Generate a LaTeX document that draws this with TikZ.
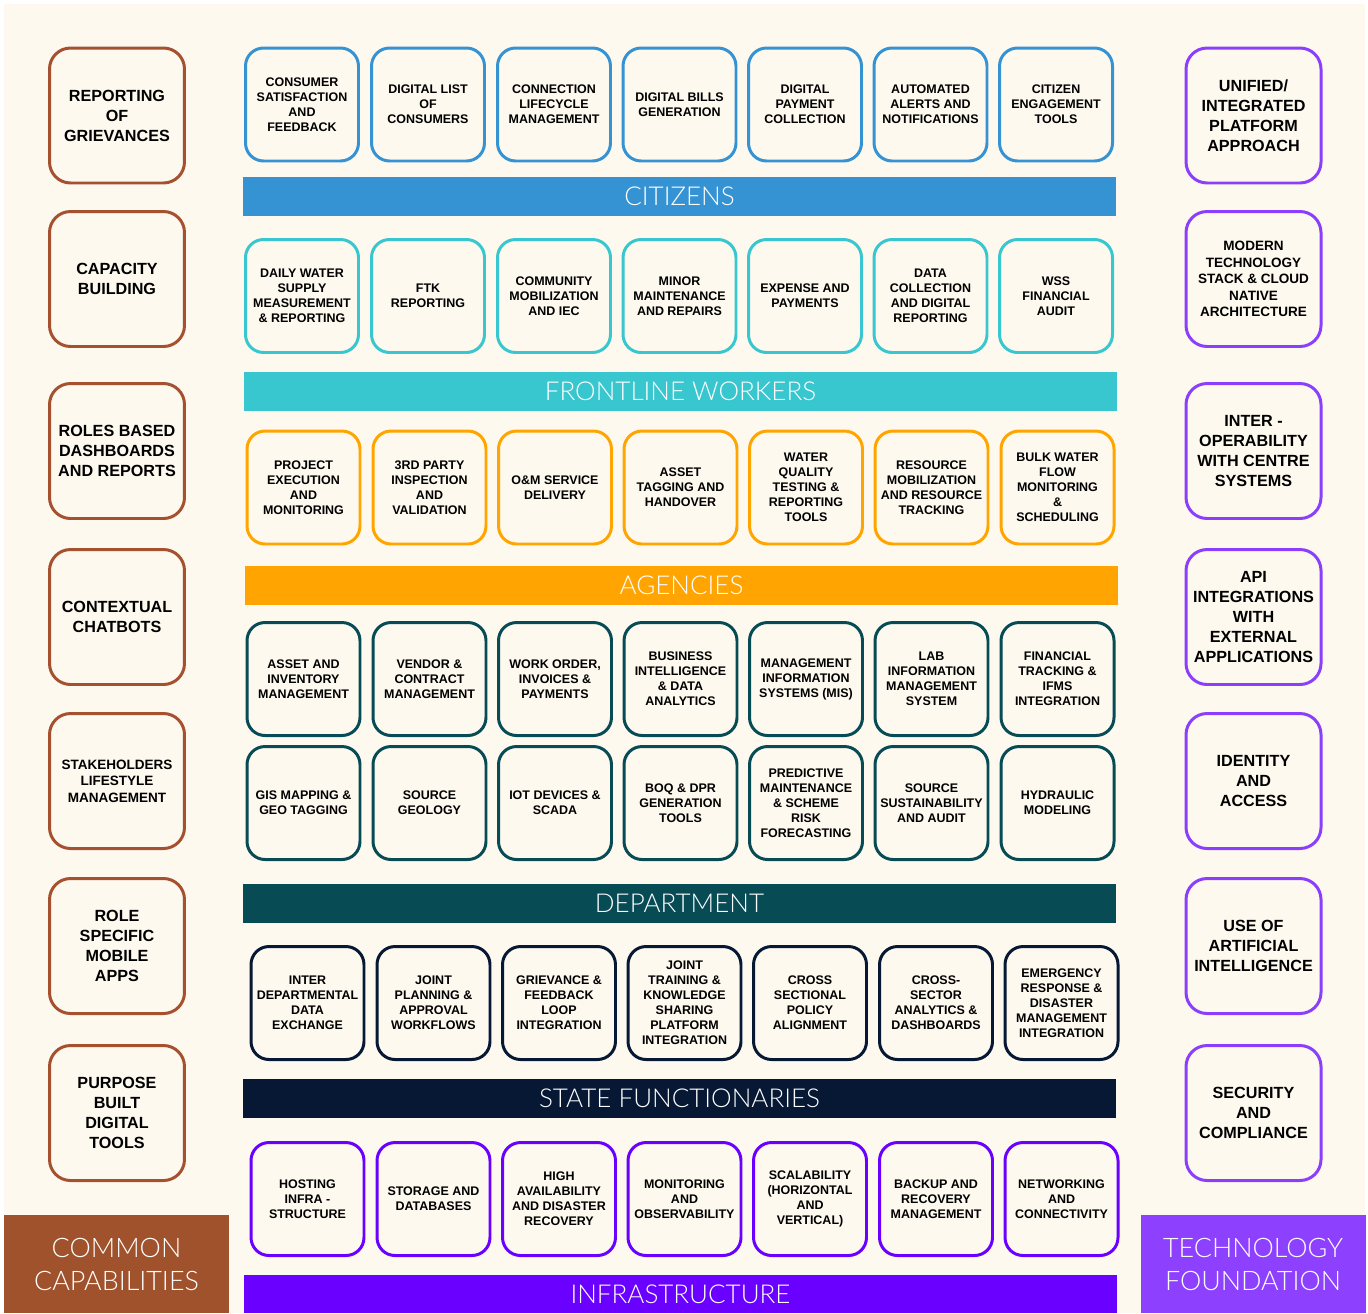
\documentclass[tikz,border=0pt]{standalone}
\usepackage{fontspec}
\setmainfont{Liberation Sans}
\newfontfamily\bandfamily{Lato Light}
\usepackage{tikz}
\usetikzlibrary{positioning}
\definecolor{cream}{HTML}{FDF9EF}
\definecolor{brownedge}{HTML}{A5502F}
\definecolor{brownband}{HTML}{A0522D}
\definecolor{violetedge}{HTML}{8B3FFC}
\definecolor{violetband}{HTML}{8E40FF}
\definecolor{citblue}{HTML}{3592D3}
\definecolor{fwcyan}{HTML}{38C6CF}
\definecolor{agorange}{HTML}{FFA400}
\definecolor{depteal}{HTML}{074B55}
\definecolor{stnavy}{HTML}{061834}
\definecolor{infpurple}{HTML}{6A00FF}
\newcommand\tilefont{\fontsize{7.1}{8.5}\selectfont\bfseries}
\newcommand\sidefont{\fontsize{9.2}{11.4}\selectfont\bfseries}
\newcommand\sidesmallfont{\fontsize{7.7}{9.4}\selectfont\bfseries}
\newcommand\bandfont{\fontsize{14.8}{17}\selectfont\bandfamily}
\tikzset{
    tile/.style={draw, line width=1.7pt, rounded corners=0.36cm, fill=cream, minimum width=2.26cm, minimum height=2.26cm, inner sep=1pt, align=center, font=\tilefont},
    sidetile/.style={tile, rounded corners=0.42cm, minimum width=2.7cm, minimum height=2.7cm, font=\sidefont},
    band/.style={minimum width=17.46cm, minimum height=0.78cm, inner sep=0pt, text=white, font=\bandfont},
    cornerband/.style={minimum width=4.5cm, minimum height=1.96cm, inner sep=0pt, align=center, text=white, font=\fontsize{15.3}{18.8}\selectfont\bandfamily},
}

\begin{document}
\begin{tikzpicture}[x=0.02cm, y=-0.02cm]
   \useasboundingbox (0,0) rectangle (1368,1313);
   \fill[white] (0,0) rectangle (1368,1313);
   \fill[cream] (4,4) rectangle (1365,1313);
% common capabilities on the left
   \node[sidetile, draw=brownedge] (cc1) at (117,115.5) {REPORTING\\OF\\GRIEVANCES};
   \node[sidetile, draw=brownedge] (cc2) at (117,279) {CAPACITY\\BUILDING};
   \node[sidetile, draw=brownedge] (cc3) at (117,451) {ROLES BASED\\DASHBOARDS\\AND REPORTS};
   \node[sidetile, draw=brownedge] (cc4) at (117,617) {CONTEXTUAL\\CHATBOTS};
   \node[sidetile, draw=brownedge, font=\sidesmallfont] (cc5) at (117,781) {STAKEHOLDERS\\LIFESTYLE\\MANAGEMENT};
   \node[sidetile, draw=brownedge] (cc6) at (117,946) {ROLE\\SPECIFIC\\MOBILE\\APPS};
   \node[sidetile, draw=brownedge] (cc7) at (117,1113) {PURPOSE\\BUILT\\DIGITAL\\TOOLS};
   \node[cornerband, fill=brownband] (common) at (116.5,1264) {COMMON\\CAPABILITIES};
% technology foundation on the right
   \node[sidetile, draw=violetedge] (tf1) at (1253.5,115.5) {UNIFIED/\\INTEGRATED\\PLATFORM\\APPROACH};
   \node[sidetile, draw=violetedge, font=\sidesmallfont] (tf2) at (1253.5,279) {MODERN\\TECHNOLOGY\\STACK \& CLOUD\\NATIVE\\ARCHITECTURE};
   \node[sidetile, draw=violetedge] (tf3) at (1253.5,451) {INTER -\\OPERABILITY\\WITH CENTRE\\SYSTEMS};
   \node[sidetile, draw=violetedge] (tf4) at (1253.5,617) {API\\INTEGRATIONS\\WITH\\EXTERNAL\\APPLICATIONS};
   \node[sidetile, draw=violetedge] (tf5) at (1253.5,781) {IDENTITY\\AND\\ACCESS};
   \node[sidetile, draw=violetedge] (tf6) at (1253.5,946) {USE OF\\ARTIFICIAL\\INTELLIGENCE};
   \node[sidetile, draw=violetedge] (tf7) at (1253.5,1113) {SECURITY\\AND\\COMPLIANCE};
   \node[cornerband, fill=violetband] (techfound) at (1253,1264) {TECHNOLOGY\\FOUNDATION};
% citizens
   \node[tile, draw=citblue] (cit1) at (302,104.5) {CONSUMER\\SATISFACTION\\AND\\FEEDBACK};
   \node[tile, draw=citblue] (cit2) at (428,104.5) {DIGITAL LIST\\OF\\CONSUMERS};
   \node[tile, draw=citblue] (cit3) at (554,104.5) {CONNECTION\\LIFECYCLE\\MANAGEMENT};
   \node[tile, draw=citblue] (cit4) at (679.5,104.5) {DIGITAL BILLS\\GENERATION};
   \node[tile, draw=citblue] (cit5) at (805,104.5) {DIGITAL\\PAYMENT\\COLLECTION};
   \node[tile, draw=citblue] (cit6) at (930.5,104.5) {AUTOMATED\\ALERTS AND\\NOTIFICATIONS};
   \node[tile, draw=citblue] (cit7) at (1056,104.5) {CITIZEN\\ENGAGEMENT\\TOOLS};
   \node[band, fill=citblue] (citizens) at (679.5,196.5) {CITIZENS};
% frontline workers
   \node[tile, draw=fwcyan] (fw1) at (302,296) {DAILY WATER\\SUPPLY\\MEASUREMENT\\\& REPORTING};
   \node[tile, draw=fwcyan] (fw2) at (428,296) {FTK\\REPORTING};
   \node[tile, draw=fwcyan] (fw3) at (554,296) {COMMUNITY\\MOBILIZATION\\AND IEC};
   \node[tile, draw=fwcyan] (fw4) at (679.5,296) {MINOR\\MAINTENANCE\\AND REPAIRS};
   \node[tile, draw=fwcyan] (fw5) at (805,296) {EXPENSE AND\\PAYMENTS};
   \node[tile, draw=fwcyan] (fw6) at (930.5,296) {DATA\\COLLECTION\\AND DIGITAL\\REPORTING};
   \node[tile, draw=fwcyan] (fw7) at (1056,296) {WSS\\FINANCIAL\\AUDIT};
   \node[band, fill=fwcyan] (frontline) at (680.5,391.5) {FRONTLINE WORKERS};
% agencies
   \node[tile, draw=agorange] (ag1) at (303.5,487.5) {PROJECT\\EXECUTION\\AND\\MONITORING};
   \node[tile, draw=agorange] (ag2) at (429.5,487.5) {3RD PARTY\\INSPECTION\\AND\\VALIDATION};
   \node[tile, draw=agorange] (ag3) at (555,487.5) {O\&M SERVICE\\DELIVERY};
   \node[tile, draw=agorange] (ag4) at (680.5,487.5) {ASSET\\TAGGING AND\\HANDOVER};
   \node[tile, draw=agorange] (ag5) at (806,487.5) {WATER\\QUALITY\\TESTING \&\\REPORTING\\TOOLS};
   \node[tile, draw=agorange] (ag6) at (931.5,487.5) {RESOURCE\\MOBILIZATION\\AND RESOURCE\\TRACKING};
   \node[tile, draw=agorange] (ag7) at (1057.5,487.5) {BULK WATER\\FLOW\\MONITORING\\\&\\SCHEDULING};
   \node[band, fill=agorange] (agencies) at (681.5,585.5) {AGENCIES};
% department, two rows
   \node[tile, draw=depteal] (dep1) at (303.5,679) {ASSET AND\\INVENTORY\\MANAGEMENT};
   \node[tile, draw=depteal] (dep2) at (429.5,679) {VENDOR \&\\CONTRACT\\MANAGEMENT};
   \node[tile, draw=depteal] (dep3) at (555,679) {WORK ORDER,\\INVOICES \&\\PAYMENTS};
   \node[tile, draw=depteal] (dep4) at (680.5,679) {BUSINESS\\INTELLIGENCE\\\& DATA\\ANALYTICS};
   \node[tile, draw=depteal] (dep5) at (806,679) {MANAGEMENT\\INFORMATION\\SYSTEMS (MIS)};
   \node[tile, draw=depteal] (dep6) at (931.5,679) {LAB\\INFORMATION\\MANAGEMENT\\SYSTEM};
   \node[tile, draw=depteal] (dep7) at (1057.5,679) {FINANCIAL\\TRACKING \&\\IFMS\\INTEGRATION};
   \node[tile, draw=depteal] (dep8) at (303.5,803) {GIS MAPPING \&\\GEO TAGGING};
   \node[tile, draw=depteal] (dep9) at (429.5,803) {SOURCE\\GEOLOGY};
   \node[tile, draw=depteal] (dep10) at (555,803) {IOT DEVICES \&\\SCADA};
   \node[tile, draw=depteal] (dep11) at (680.5,803) {BOQ \& DPR\\GENERATION\\TOOLS};
   \node[tile, draw=depteal] (dep12) at (806,803) {PREDICTIVE\\MAINTENANCE\\\& SCHEME\\RISK\\FORECASTING};
   \node[tile, draw=depteal] (dep13) at (931.5,803) {SOURCE\\SUSTAINABILITY\\AND AUDIT};
   \node[tile, draw=depteal] (dep14) at (1057.5,803) {HYDRAULIC\\MODELING};
   \node[band, fill=depteal] (department) at (679.5,903.5) {DEPARTMENT};
% state functionaries
   \node[tile, draw=stnavy] (st1) at (307.5,1003) {INTER\\DEPARTMENTAL\\DATA\\EXCHANGE};
   \node[tile, draw=stnavy] (st2) at (433.5,1003) {JOINT\\PLANNING \&\\APPROVAL\\WORKFLOWS};
   \node[tile, draw=stnavy] (st3) at (559,1003) {GRIEVANCE \&\\FEEDBACK\\LOOP\\INTEGRATION};
   \node[tile, draw=stnavy] (st4) at (684.5,1003) {JOINT\\TRAINING \&\\KNOWLEDGE\\SHARING\\PLATFORM\\INTEGRATION};
   \node[tile, draw=stnavy] (st5) at (810,1003) {CROSS\\SECTIONAL\\POLICY\\ALIGNMENT};
   \node[tile, draw=stnavy] (st6) at (936,1003) {CROSS-\\SECTOR\\ANALYTICS \&\\DASHBOARDS};
   \node[tile, draw=stnavy] (st7) at (1061.5,1003) {EMERGENCY\\RESPONSE \&\\DISASTER\\MANAGEMENT\\INTEGRATION};
   \node[band, fill=stnavy] (state) at (679.5,1098.5) {STATE FUNCTIONARIES};
% infrastructure
   \node[tile, draw=infpurple] (inf1) at (307.5,1199) {HOSTING\\INFRA -\\STRUCTURE};
   \node[tile, draw=infpurple] (inf2) at (433.5,1199) {STORAGE AND\\DATABASES};
   \node[tile, draw=infpurple] (inf3) at (559,1199) {HIGH\\AVAILABILITY\\AND DISASTER\\RECOVERY};
   \node[tile, draw=infpurple] (inf4) at (684.5,1199) {MONITORING\\AND\\OBSERVABILITY};
   \node[tile, draw=infpurple] (inf5) at (810,1199) {SCALABILITY\\(HORIZONTAL\\AND\\VERTICAL)};
   \node[tile, draw=infpurple] (inf6) at (936,1199) {BACKUP AND\\RECOVERY\\MANAGEMENT};
   \node[tile, draw=infpurple] (inf7) at (1061.5,1199) {NETWORKING\\AND\\CONNECTIVITY};
   \node[band, fill=infpurple, minimum height=0.76cm] (infra) at (680.5,1294) {INFRASTRUCTURE};
\end{tikzpicture}
\end{document}
